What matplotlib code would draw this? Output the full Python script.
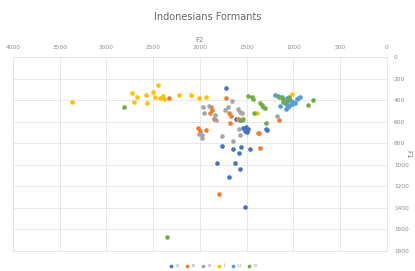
import matplotlib
matplotlib.use("Agg")
import matplotlib.pyplot as plt

labels = ["a", "e", "ə", "i", "u", "o"]
colors = ["#4472C4", "#ED7D31", "#A5A5A5", "#FFC000", "#5B9BD5", "#70AD47"]

# F2, F1
a_f2 = [1725, 1615, 1572, 1537, 1519, 1500, 1483, 1508, 1761, 1647, 1565, 1580,
        1468, 1287, 1294, 1818, 1629, 1575, 1693, 1515]
a_f1 = [285, 578, 584, 662, 684, 693, 671, 652, 826, 856, 838, 888,
        851, 677, 671, 981, 981, 1042, 1111, 1392]

e_f2 = [2331, 1882, 1868, 1893, 1672, 1722, 2018, 2000, 1936, 1850, 1686, 1679,
        1369, 1358, 1794, 1152, 1376, 1597]
e_f1 = [383, 467, 492, 523, 547, 383, 662, 684, 677, 578, 523, 609,
        708, 847, 1271, 584, 702, 578]

schwa_f2 = [1964, 1954, 1900, 1840, 1829, 1733, 1697, 1661, 1597, 1572, 1554, 1768,
            2007, 1580, 1572, 1644, 1982, 1982, 1173]
schwa_f1 = [467, 517, 455, 538, 584, 492, 461, 405, 485, 508, 523, 733,
            714, 671, 724, 779, 724, 754, 547]

i_f2 = [3372, 2724, 2677, 2706, 2577, 2570, 2506, 2481, 2446, 2428, 2392, 2385,
        2220, 2100, 2007, 1936, 1019, 1387]
i_f1 = [420, 337, 368, 415, 353, 424, 328, 374, 260, 383, 359, 393,
        353, 353, 383, 368, 343, 523]

u_f2 = [1198, 1162, 1126, 1109, 1073, 1037, 1002, 966, 948, 930, 1091, 1073,
        1055, 1080, 1037, 1019, 1002, 984, 1144]
u_f1 = [353, 362, 374, 393, 383, 399, 415, 393, 383, 374, 430, 445,
        461, 485, 445, 436, 430, 424, 455]

o_f2 = [1483, 1447, 1437, 1358, 1340, 1323, 1305, 1422, 1554, 1537, 1294, 1152,
        1126, 1109, 1073, 1045, 841, 795, 2813, 2356]
o_f1 = [362, 368, 393, 424, 445, 461, 476, 523, 584, 578, 615, 368,
        383, 415, 405, 368, 445, 399, 461, 1673]

series = [(a_f2, a_f1), (e_f2, e_f1), (schwa_f2, schwa_f1),
          (i_f2, i_f1), (u_f2, u_f1), (o_f2, o_f1)]

fig = plt.figure(figsize=(4.15, 2.71), dpi=100)
ax = fig.add_axes([0.0313, 0.0738, 0.9012, 0.7159])

for (x, y), c, lab in zip(series, colors, labels):
    ax.scatter(x, y, s=11, color=c, label=lab, linewidths=0, zorder=3)

ax.set_xlim(4000, 0)
ax.set_ylim(1800, 0)
ax.set_xticks(range(0, 4001, 500))
ax.set_yticks(range(0, 1801, 200))
ax.xaxis.tick_top()
ax.yaxis.tick_right()
ax.xaxis.set_label_position("top")
ax.yaxis.set_label_position("right")
ax.tick_params(length=0, labelsize=4.2, labelcolor="#8c8c8c")
ax.tick_params(axis="x", pad=5)
ax.tick_params(axis="y", pad=5)
ax.grid(color="#e3e3e3", linewidth=0.6)
ax.set_axisbelow(True)
for s in ax.spines.values():
    s.set_color("#e3e3e3")
    s.set_linewidth(0.6)

ax.set_xlabel("F2", fontsize=5, color="#7f7f7f", labelpad=2)
ax.set_ylabel("F1", fontsize=5, color="#7f7f7f", rotation=-90, va="center")
ax.yaxis.set_label_coords(1.057, 0.5)
fig.suptitle("Indonesians Formants", fontsize=7, color="#666666", y=0.955)

fig.legend(loc="lower center", ncol=6, fontsize=3.5, frameon=False,
           markerscale=0.8, handletextpad=0.05, columnspacing=0.6,
           labelcolor="#8c8c8c", bbox_to_anchor=(0.51, -0.005))

fig.savefig("out.png", dpi=100)
